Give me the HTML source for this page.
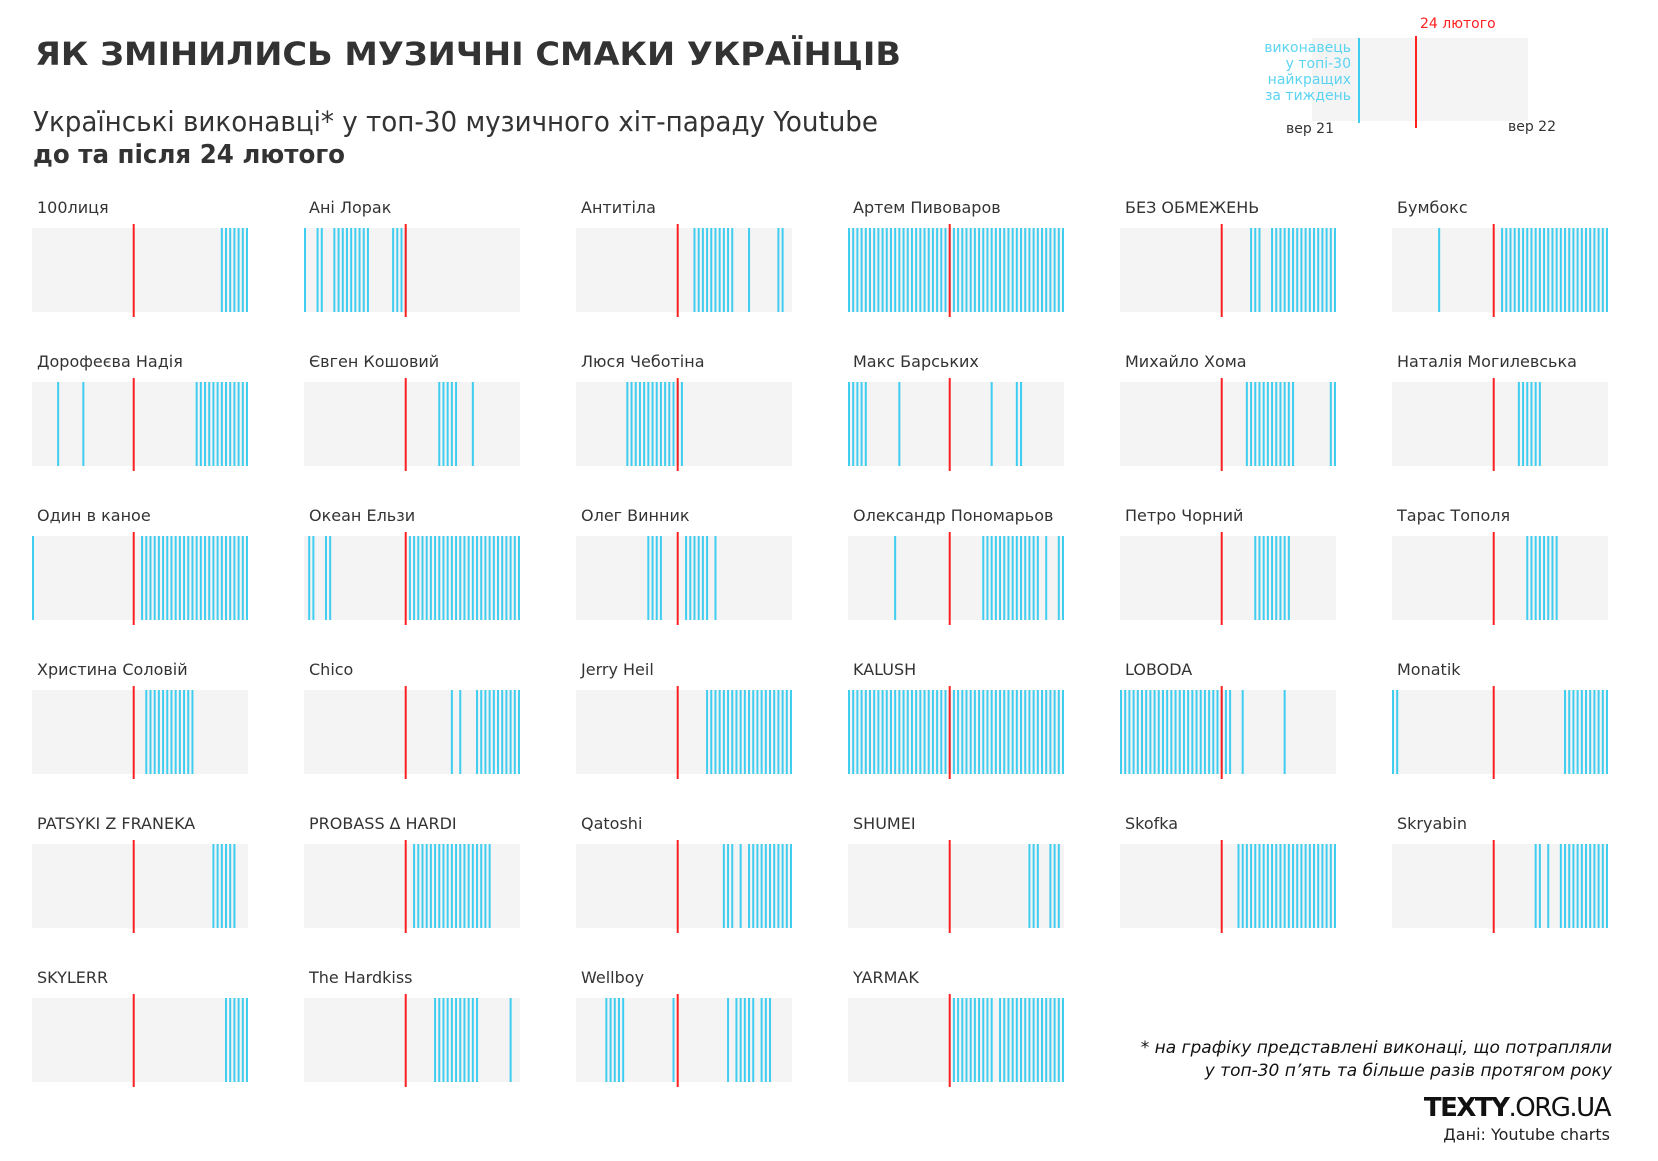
<!DOCTYPE html>
<html><head><meta charset="utf-8">
<style>
html,body{margin:0;padding:0;background:#fff;}
svg text{font-family:"DejaVu Sans","Liberation Sans",sans-serif;}
</style></head>
<body>
<svg id="chart" width="1658" height="1156" viewBox="0 0 1658 1156" xmlns="http://www.w3.org/2000/svg">
<text x="35" y="65" font-size="32" font-weight="bold" fill="#333" textLength="866" lengthAdjust="spacingAndGlyphs">ЯК ЗМІНИЛИСЬ МУЗИЧНІ СМАКИ УКРАЇНЦІВ</text>
<text x="33" y="131" font-size="28" fill="#333" textLength="845" lengthAdjust="spacingAndGlyphs">Українські виконавці* у топ-30 музичного хіт-параду  Youtube</text>
<text x="33" y="163" font-size="26" font-weight="bold" fill="#333" textLength="312" lengthAdjust="spacingAndGlyphs">до та після 24 лютого</text>
<g>
<rect x="1312" y="38" width="216" height="83" fill="#f4f4f4"/>
<line x1="1359" y1="38" x2="1359" y2="123" stroke="#3fcdf0" stroke-width="2"/>
<line x1="1416" y1="36" x2="1416" y2="128" stroke="#ff2020" stroke-width="2"/>
<text x="1420" y="28" font-size="14" fill="#ff2020">24 лютого</text>
<text font-size="14" fill="#5ad4f2" text-anchor="end">
<tspan x="1351" y="52">виконавець</tspan><tspan x="1351" y="68">у топі-30</tspan><tspan x="1351" y="84">найкращих</tspan><tspan x="1351" y="100">за тиждень</tspan></text>
<text x="1310" y="133" font-size="14" fill="#333" text-anchor="middle">вер 21</text>
<text x="1532" y="131" font-size="14" fill="#333" text-anchor="middle">вер 22</text>
</g>
<g id="panels"></g>
<text font-size="17" font-style="italic" fill="#111" text-anchor="end">
<tspan x="1612" y="1053">* на графіку представлені виконаці, що потрапляли</tspan><tspan x="1612" y="1076">у топ-30 п’ять та більше разів протягом року</tspan></text>
<text x="1610" y="1116" font-size="26" fill="#111" text-anchor="end" font-family="Liberation Sans, sans-serif" letter-spacing="-1.5"><tspan font-weight="bold">TEXTY</tspan>.ORG.UA</text>
<text x="1610" y="1140" font-size="16" fill="#222" text-anchor="end">Дані: Youtube charts</text>
</svg>
<script>
function r(a,b){var o=[];for(var i=a;i<=b;i++)o.push(i);return o;}
var artists=["100лиця","Ані Лорак","Антитіла","Артем Пивоваров","БЕЗ ОБМЕЖЕНЬ","Бумбокс",
"Дорофеєва Надія","Євген Кошовий","Люся Чеботіна","Макс Барських","Михайло Хома","Наталія Могилевська",
"Один в каное","Океан Ельзи","Олег Винник","Олександр Пономарьов","Петро Чорний","Тарас Тополя",
"Христина Соловій","Chico","Jerry Heil","KALUSH","LOBODA","Monatik",
"PATSYKI Z FRANEKA","PROBASS ∆ HARDI","Qatoshi","SHUMEI","Skofka","Skryabin",
"SKYLERR","The Hardkiss","Wellboy","YARMAK"];
var weeks=[
r(45,51),
[0,3,4].concat(r(7,15),r(21,24)),
r(28,37).concat([41,48,49]),
r(0,51),
r(31,33).concat(r(36,51)),
[11].concat(r(26,51)),
[6,12].concat(r(39,51)),
r(32,36).concat([40]),
r(12,25),
r(0,4).concat([12,34,40,41]),
r(30,41).concat([50,51]),
r(30,35),
[0].concat(r(26,51)),
[1,2,5,6].concat(r(25,51)),
r(17,20).concat(r(26,31),[33]),
[11].concat(r(32,45),[47,50,51]),
r(32,40),
r(32,39),
r(27,38),
[35,37].concat(r(41,51)),
r(31,51),
r(0,51),
r(0,26).concat([29,39]),
[0,1].concat(r(41,51)),
r(43,48),
r(26,44),
r(35,37).concat([39],r(41,51)),
r(43,45).concat(r(48,50)),
r(28,51),
[34,35,37].concat(r(40,51)),
r(46,51),
r(31,41).concat([49]),
r(7,11).concat([23,36],r(38,42),r(44,46)),
r(25,34).concat(r(36,51))
];
var totalWeeks=52;
var invasionWeek=24;
var NS="http://www.w3.org/2000/svg";
var g=document.getElementById('panels');
var colX0=32,colPitch=272,rowY0=228,rowPitch=154,pw=216,ph=84;
function xScale(w){return w*(pw-2)/(totalWeeks-1);}
function mk(t,attrs){var e=document.createElementNS(NS,t);for(var k in attrs)e.setAttribute(k,attrs[k]);return e;}
artists.forEach(function(name,idx){
  var c=idx%6,rw=Math.floor(idx/6);
  var x0=colX0+c*colPitch,y0=rowY0+rw*rowPitch;
  var grp=mk('g',{});
  
  
  var lab=mk('text',{x:x0+5,y:y0-15,'font-size':16,fill:'#333'});
  
  
  lab.textContent=name;grp.appendChild(lab);
  var bg=mk('rect',{x:x0,y:y0,width:pw,height:ph,fill:'#f4f4f4'});
  
  
  grp.appendChild(bg);
  weeks[idx].forEach(function(w){
    var x=x0+xScale(w)+1;
    var ln=mk('line',{x1:x,y1:y0,x2:x,y2:y0+ph,stroke:'#3fcdf0','stroke-width':2});
    
    
    grp.appendChild(ln);
  });
  var rx=x0+xScale(invasionWeek)+1;
  var red=mk('line',{x1:rx,y1:y0-4,x2:rx,y2:y0+ph+5,stroke:'#ff2020','stroke-width':2});
  
  
  grp.appendChild(red);
  g.appendChild(grp);
});
</script>
</body></html>
